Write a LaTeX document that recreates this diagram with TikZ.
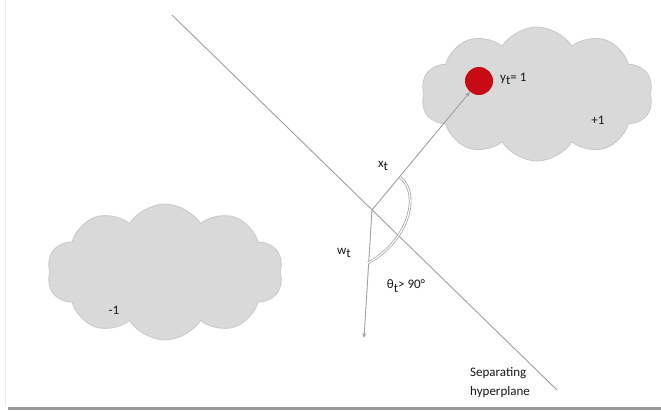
\documentclass[tikz,border=0pt]{standalone}
\usepackage{fontspec}
\setmainfont{Carlito}
\usetikzlibrary{shapes.symbols,arrows.meta}
\definecolor{cloudfill}{RGB}{217,217,217}
\definecolor{cloudline}{RGB}{200,200,200}
\definecolor{linegray}{RGB}{160,160,160}
\definecolor{dotred}{RGB}{200,10,20}
\definecolor{txt}{RGB}{25,25,25}
\newcommand\subt{\raisebox{-0.55ex}{t}}
\begin{document}
\begin{tikzpicture}[x=1pt,y=-1pt,
  cloudbox/.style={cloud, cloud puffs=10, cloud puff arc=115, fill=cloudfill, draw=cloudline, line width=0.8pt, inner sep=0pt},
  thinline/.style={draw=linegray, line width=0.9pt},
  arrowline/.style={thinline, -{Stealth[length=5pt,width=4pt]}},
  lbl/.style={font=\fontsize{13}{19}\selectfont, text=txt, inner sep=0pt}]
\useasboundingbox (0,0) rectangle (661,410);
\fill[white] (0,0) rectangle (661,410);
% frame
\draw[draw=black!8, line width=0.6pt] (5,0) -- (5,406);
\draw[draw=black!40, line width=2.5pt] (8,408.5) -- (661,408.5);
% clouds
\node[cloudbox, minimum width=232pt, minimum height=134pt, aspect=1.75] (cloudR) at (537,94) {};
\node[cloudbox, minimum width=236pt, minimum height=136pt, aspect=1.75] (cloudL) at (165,272) {};
% hyperplane
\coordinate (hpA) at (172,15);
\coordinate (hpB) at (557,390);
\draw[thinline] (hpA) -- (hpB);
% origin and vectors
\coordinate (O) at (372,210);
\node[circle, fill=dotred, minimum size=28pt, inner sep=0pt] (pt) at (479,81) {};
\draw[arrowline] (O) -- (pt);
\coordinate (wend) at (364,338);
\draw[arrowline] (O) -- (wend);
% angle arc
\coordinate (arcA) at (400,177);
\coordinate (arcB) at (368,263);
\draw[draw=linegray, double=white, double distance=1.2pt, line width=0.7pt] (arcA) .. controls (422,195) and (407,242) .. (arcB);
% labels
\node[lbl] (xl) at (383,166) {x\subt};
\node[lbl] (wl) at (344,253) {w\subt};
\node[lbl] (th) at (406,286) {θ\subt> 90°};
\node[lbl, anchor=west] (yl) at (500,79) {y\subt= 1};
\node[lbl] (p1) at (598,120) {+1};
\node[lbl] (m1) at (114,310) {-1};
\node[lbl, anchor=north west, align=left] (sep) at (470,367) {Separating\\hyperplane};
\end{tikzpicture}
\end{document}
